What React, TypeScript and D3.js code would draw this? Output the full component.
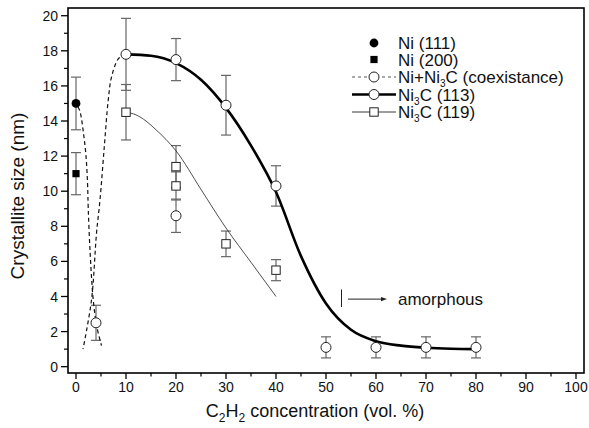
import * as d3 from 'd3'

// measured points: [x, y, error]
const ni111 = [[0, 15, 1.5]]
const ni200 = [[0, 11, 1.2]]
const coexPoints = [[4, 2.5, 1.0], [20, 8.6, 0.95]]
const ni3c113Points = [
    [10, 17.8, 2.05], [20, 17.5, 1.2], [30, 14.9, 1.7], [40, 10.3, 1.15],
    [50, 1.1, 0.6], [60, 1.1, 0.6], [70, 1.1, 0.6], [80, 1.1, 0.6]
]
const ni3c119Points = [[10, 14.5, 1.58], [20, 11.4, 1.2], [20, 10.3, 0.8], [30, 7.0, 0.73], [40, 5.5, 0.6]]

// guide curves
const coexCurveA = [
    [0.4, 14.8], [0.8, 14.55], [1.5, 13.3], [2.0, 12.0], [2.3, 10.5], [2.45, 9.0],
    [2.8, 6.65], [3.45, 3.8], [4.15, 2.3], [5.1, 1.2]
]
const coexCurveB = [
    [10, 17.8], [8.5, 17.55], [7.1, 16.5], [6.45, 15.2], [5.65, 12.5], [4.8, 9.5],
    [4.1, 7.6], [3.1, 3.8], [1.4, 1.0]
]
const ni3c113Curve = [
    [10, 17.8], [15, 17.72], [20, 17.3], [25, 16.35], [30, 14.75], [35, 12.6], [40, 9.95],
    [45, 6.3], [50, 3.6], [55, 2.1], [60, 1.45], [65, 1.2], [70, 1.08], [75, 1.02], [80, 1.0]
]
const ni3c119Curve = [
    [10, 14.5], [12, 14.35], [14, 14.0], [16, 13.5], [18, 12.95], [20, 12.3],
    [25, 10.1], [30, 7.9], [35, 5.95], [40, 4.0]
]

const xTicks = [0, 10, 20, 30, 40, 50, 60, 70, 80, 90, 100]
const xMinor = [5, 15, 25, 35, 45, 55, 65, 75, 85, 95]
const yTicks = [0, 2, 4, 6, 8, 10, 12, 14, 16, 18, 20]
const yMinor = [1, 3, 5, 7, 9, 11, 13, 15, 17, 19]

const legendRows = [
    { kind: 'dot', pre: 'Ni (111)', sub: '', post: '' },
    { kind: 'sq', pre: 'Ni (200)', sub: '', post: '' },
    { kind: 'dash', pre: 'Ni+Ni', sub: '3', post: 'C (coexistance)' },
    { kind: 'thick', pre: 'Ni', sub: '3', post: 'C (113)' },
    { kind: 'thin', pre: 'Ni', sub: '3', post: 'C (119)' }
]

const font = '"Liberation Sans", Arial, sans-serif'
const errColor = '#666'

export default function App() {
    const left = 68, right = 584, top = 8, bottom = 373

    const x = d3.scaleLinear().domain([-1.6, 101.6]).range([left, right])
    const y = d3.scaleLinear().domain([-0.36, 20.44]).range([bottom, top])

    const line = d3.line<number[]>()
        .x(d => x(d[0]))
        .y(d => y(d[1]))
        .curve(d3.curveCatmullRom)

    const smooth = d3.line<number[]>()
        .x(d => x(d[0]))
        .y(d => y(d[1]))
        .curve(d3.curveMonotoneX)

    const errBars = (pts: number[][], key: string) => pts.map((p, i) => (
        <g key={key + i} stroke={errColor} strokeWidth={1.2}>
            <line x1={x(p[0])} x2={x(p[0])} y1={y(p[1] - p[2])} y2={y(p[1] + p[2])} />
            <line x1={x(p[0]) - 5} x2={x(p[0]) + 5} y1={y(p[1] - p[2])} y2={y(p[1] - p[2])} />
            <line x1={x(p[0]) - 5} x2={x(p[0]) + 5} y1={y(p[1] + p[2])} y2={y(p[1] + p[2])} />
        </g>
    ))

    const openCircles = (pts: number[][], key: string) => pts.map((p, i) => (
        <circle key={key + i} cx={x(p[0])} cy={y(p[1])} r={5} fill="white" stroke="#222" strokeWidth={1} />
    ))

    const openSquares = (pts: number[][], key: string) => pts.map((p, i) => (
        <rect key={key + i} x={x(p[0]) - 4.2} y={y(p[1]) - 4.2} width={8.4} height={8.4}
            fill="white" stroke="#222" strokeWidth={1} />
    ))

    const legX = 374, legTextX = 398
    const legY = [43, 59.5, 77, 94.5, 112]

    return (
        <div style={{ position: 'absolute', left: 0, top: 0 }}>
            <svg width={589} height={428} style={{ display: 'block' }} fontFamily={font}>
                <rect width={589} height={428} fill="white" />

                {errBars(ni111, 'e1')}
                {errBars(ni200, 'e2')}
                {errBars(coexPoints, 'e3')}
                {errBars(ni3c113Points, 'e4')}
                {errBars(ni3c119Points, 'e5')}

                <path d={line(coexCurveA) ?? ''} fill="none" stroke="#111" strokeWidth={1.2} strokeDasharray="4,3" />
                <path d={line(coexCurveB) ?? ''} fill="none" stroke="#111" strokeWidth={1.2} strokeDasharray="4,3" />
                <path d={smooth(ni3c113Curve) ?? ''} fill="none" stroke="#000" strokeWidth={2.6} />
                <path d={smooth(ni3c119Curve) ?? ''} fill="none" stroke="#222" strokeWidth={0.8} />

                {ni111.map((p, i) => (
                    <circle key={'n1' + i} cx={x(p[0])} cy={y(p[1])} r={4.4} fill="#000" />
                ))}
                {ni200.map((p, i) => (
                    <rect key={'n2' + i} x={x(p[0]) - 3.6} y={y(p[1]) - 3.6} width={7.2} height={7.2} fill="#000" />
                ))}
                {openCircles(coexPoints, 'c')}
                {openCircles(ni3c113Points, 'a')}
                {openSquares(ni3c119Points, 'b')}

                {/* amorphous annotation */}
                <line x1={x(53.1)} x2={x(53.1)} y1={y(3.4)} y2={y(4.4)} stroke="#222" strokeWidth={1} />
                <line x1={x(54.4)} x2={x(61.4)} y1={y(3.85)} y2={y(3.85)} stroke="#222" strokeWidth={1} />
                <path d={`M${x(62.2)},${y(3.85)} l-6,-2.2 l0,4.4 z`} fill="#222" />
                <text x={398} y={y(3.85)} dy="0.36em" fontSize={17} fill="#111">amorphous</text>

                {/* frame */}
                <rect x={left} y={top} width={right - left} height={bottom - top} fill="none" stroke="#000" strokeWidth={1.6} />

                {/* x axis */}
                {xTicks.map(t => (
                    <g key={'xt' + t}>
                        <line x1={x(t)} x2={x(t)} y1={bottom} y2={bottom + 6} stroke="#000" strokeWidth={1.3} />
                        <text x={x(t)} y={bottom + 19} textAnchor="middle" fontSize={14} fill="#111">{t}</text>
                    </g>
                ))}
                {xMinor.map(t => (
                    <line key={'xm' + t} x1={x(t)} x2={x(t)} y1={bottom} y2={bottom + 3.5} stroke="#000" strokeWidth={1.2} />
                ))}

                {/* y axis */}
                {yTicks.map(t => (
                    <g key={'yt' + t}>
                        <line x1={left - 7} x2={left} y1={y(t)} y2={y(t)} stroke="#000" strokeWidth={1.3} />
                        <text x={left - 10} y={y(t)} dy="0.36em" textAnchor="end" fontSize={14} fill="#111">{t}</text>
                    </g>
                ))}
                {yMinor.map(t => (
                    <line key={'ym' + t} x1={left - 4} x2={left} y1={y(t)} y2={y(t)} stroke="#000" strokeWidth={1.2} />
                ))}

                <text x={315} y={417} textAnchor="middle" fontSize={18} fill="#111">
                    C<tspan dy={5} fontSize={12}>2</tspan><tspan dy={-5}>H</tspan><tspan dy={5} fontSize={12}>2</tspan><tspan dy={-5}> concentration (vol. %)</tspan>
                </text>
                <text transform={`translate(24,196) rotate(-90)`} textAnchor="middle" fontSize={19} fill="#111">
                    Crystallite size (nm)
                </text>

                {/* legend */}
                {legendRows.map((r, i) => {
                    const cy = legY[i]
                    return (
                        <g key={'lg' + i}>
                            {r.kind === 'dot' && <circle cx={legX} cy={cy} r={4.4} fill="#000" />}
                            {r.kind === 'sq' && <rect x={legX - 3.6} y={cy - 3.6} width={7.2} height={7.2} fill="#000" />}
                            {r.kind === 'dash' && <line x1={352} x2={396} y1={cy} y2={cy} stroke="#555" strokeWidth={1} strokeDasharray="3,3" />}
                            {r.kind === 'thick' && <line x1={352} x2={396} y1={cy} y2={cy} stroke="#000" strokeWidth={2.4} />}
                            {r.kind === 'thin' && <line x1={352} x2={396} y1={cy} y2={cy} stroke="#222" strokeWidth={0.9} />}
                            {(r.kind === 'dash' || r.kind === 'thick') && <circle cx={legX} cy={cy} r={5} fill="white" stroke="#222" strokeWidth={1} />}
                            {r.kind === 'thin' && <rect x={legX - 4.2} y={cy - 4.2} width={8.4} height={8.4} fill="white" stroke="#222" strokeWidth={1} />}
                            <text x={legTextX} y={cy} dy="0.36em" fontSize={17} fill="#111">
                                {r.pre}
                                {r.sub && <tspan dy={4} fontSize={10}>{r.sub}</tspan>}
                                {r.sub && <tspan dy={-4}>{r.post}</tspan>}
                            </text>
                        </g>
                    )
                })}
            </svg>
        </div>
    )
}
